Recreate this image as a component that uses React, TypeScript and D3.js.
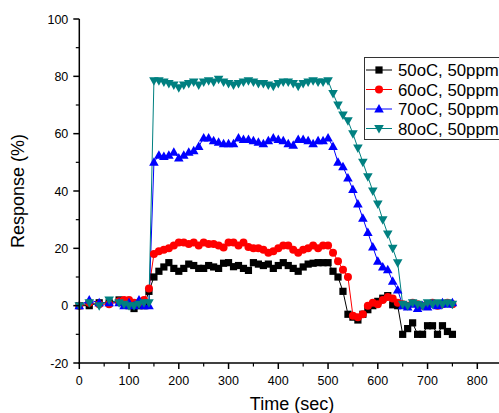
import React, { useEffect } from "react";
import * as d3 from "d3";

const times = [0, 20, 40, 60, 80, 90, 100, 110, 120, 130, 140,
  150, 160, 170, 180, 190, 200, 210, 220, 230, 240, 250, 260, 270, 280, 290,
  300, 310, 320, 330, 340, 350, 360, 370, 380, 390, 400, 410, 420, 430, 440,
  450, 460, 470, 480, 490, 500, 510, 520, 530, 540, 550, 560, 570, 580, 590,
  600, 610, 620, 630, 640, 650, 660, 670, 680, 690, 700, 710, 720, 730, 740, 750];

const s50 = [0, 0, 1, 1, 2, 1, 0, -1, 0, 0, 5,
  10, 12, 13.5, 15, 13, 12, 13, 14.5, 14, 13, 13, 14, 13.5, 13, 14.8,
  15, 13.6, 14, 13, 12.3, 15, 14.5, 14, 14.5, 13, 14, 15, 14, 13, 12,
  13.5, 14.5, 14.8, 15, 15, 15, 12, 10, 5, -3, -4, -5, -3, -1.4, 0,
  1.5, 2.6, 3.5, 0.3, 0, -10, -8, -6, -10, -10, -7, -7, -10, -7, -9, -10];

const s60 = [0, 1, 0.5, 0.5, 1.5, 2, 2, 1, 1, 2, 6,
  18, 19, 19.5, 20, 21, 22, 22, 21.5, 22, 21, 22, 21.5, 21.5, 21, 20.3,
  22, 22, 21, 22, 20.5, 20, 20, 19.5, 18.5, 19, 20, 21, 21, 19.5, 18.5,
  19.5, 20, 21, 20, 21, 21, 18.5, 15.5, 12.5, 10, -3.5, -4, -3, 0, 1,
  0.5, 2, 3, 2.5, 1, 0.5, 0, 1, 0.5, 0, 0.5, 1, 0, 0.5, 1, 0.5];

const s70 = [0, 2, 1, 1, 1, 0, 1, 0, 2, 0, 0,
  50, 52.5, 52, 52.5, 53.5, 51.5, 52.5, 53.5, 54, 55.5, 58.5, 58.5, 57.5, 57, 56.5,
  56.5, 56.5, 58.5, 58, 58, 57.5, 57, 56.5, 57.5, 58.5, 58, 57.5, 56.5, 56, 58,
  58, 57.5, 56.5, 57.5, 57.5, 58.5, 55.5, 50, 48.5, 44.5, 40.5, 35.5, 30.5, 25.5, 20.5,
  15.5, 13.5, 12.5, 8.5, 5.5, 0, -0.5, 0.5, -1, 0, -0.5, 0.5, 0, 1, 0.5, 1];

const s80 = [0, 1, 0, 2, 1, 0.5, 0, 0, 0.5, 1, 1,
  78.5, 78.5, 78, 77.5, 77, 76, 77, 77.5, 78, 77, 78, 78.5, 78, 79, 78,
  77.5, 77, 77.5, 78, 78.5, 78, 77.5, 77.5, 77, 76.5, 77.5, 78, 78, 77.5, 76.5,
  77.5, 78, 78.5, 78, 78, 78.5, 74, 70, 66.5, 64.5, 60, 55, 50, 45, 40,
  35.5, 30, 25, 20, 15, 0.5, 0, 1, 0.5, 0, 1, 0.5, 1, 0.5, 1, 0.5];

const seriesNames = ["50oC, 50ppm", "60oC, 50ppm", "70oC, 50ppm", "80oC, 50ppm"];
const seriesColors = ["#000000", "#ff0000", "#0000ff", "#008080"];
const seriesShapes = ["square", "circle", "triUp", "triDown"];
const seriesValues = [s50, s60, s70, s80];

const xTicks = [0, 100, 200, 300, 400, 500, 600, 700, 800];
const yTicks = [-20, 0, 20, 40, 60, 80, 100];
const xMinor = [50, 150, 250, 350, 450, 550, 650, 750, 850];
const yMinor = [-10, 10, 30, 50, 70, 90];

const FONT = "'Liberation Sans', Arial, Helvetica, sans-serif";

function Marker({ shape, x, y, color }: { shape: string; x: number; y: number; color: string }) {
  if (shape === "square") return <rect x={x - 3.6} y={y - 3.6} width={7.2} height={7.2} fill={color} />;
  if (shape === "circle") return <circle cx={x} cy={y} r={4} fill={color} />;
  if (shape === "triUp")
    return <path d={`M${x},${y - 5}L${x + 4.8},${y + 3.5}L${x - 4.8},${y + 3.5}Z`} fill={color} />;
  return <path d={`M${x},${y + 5}L${x + 4.8},${y - 3.5}L${x - 4.8},${y - 3.5}Z`} fill={color} />;
}

export default function App() {
  useEffect(() => {
    document.body.style.margin = "0";
  }, []);

  const x = d3.scaleLinear().domain([0, 800]).range([79.3, 477.3]);
  const y = d3.scaleLinear().domain([-20, 100]).range([363, 19]);
  const line = d3.line<number>().x((_, i) => x(times[i])).y((v) => y(v));

  const x0 = x(0);
  const yBase = y(-20);

  return (
    <div style={{ position: "absolute", left: 0, top: 0 }}>
      <svg width={499} height={413} style={{ display: "block", background: "#fff" }} fontFamily={FONT}>
        <rect width={499} height={413} fill="#fff" />
        {seriesValues.map((vals, si) => (
          <path key={"l" + si} d={line(vals) || ""} fill="none" stroke={seriesColors[si]} strokeWidth={1} />
        ))}
        {seriesValues.map((vals, si) => (
          <g key={"m" + si}>
            {vals.map((v, i) => (
              <Marker key={i} shape={seriesShapes[si]} x={x(times[i])} y={y(v)} color={seriesColors[si]} />
            ))}
          </g>
        ))}
        <line x1={x0} x2={x0} y1={y(100)} y2={yBase + 0.8} stroke="#000" strokeWidth={1.5} />
        <line x1={x0 - 0.75} x2={510} y1={yBase} y2={yBase} stroke="#000" strokeWidth={1.5} />
        {yTicks.map((t) => (
          <g key={"yt" + t}>
            <line x1={x0 - 6} x2={x0} y1={y(t)} y2={y(t)} stroke="#000" strokeWidth={1.5} />
            <text x={x0 - 11} y={y(t)} dy="0.36em" textAnchor="end" fontSize={12.5} fill="#000">{t}</text>
          </g>
        ))}
        {yMinor.map((t) => (
          <line key={"ym" + t} x1={x0 - 3.5} x2={x0} y1={y(t)} y2={y(t)} stroke="#000" strokeWidth={1.2} />
        ))}
        {xTicks.map((t) => (
          <g key={"xt" + t}>
            <line x1={x(t)} x2={x(t)} y1={yBase} y2={yBase + 6} stroke="#000" strokeWidth={1.5} />
            <text x={x(t)} y={yBase + 22} textAnchor="middle" fontSize={12.5} fill="#000">{t}</text>
          </g>
        ))}
        {xMinor.map((t) => (
          <line key={"xm" + t} x1={x(t)} x2={x(t)} y1={yBase} y2={yBase + 3.5} stroke="#000" strokeWidth={1.2} />
        ))}
        <text x={292} y={410} textAnchor="middle" fontSize={18} fill="#000">Time (sec)</text>
        <text transform={`translate(24,${(y(100) + yBase) / 2}) rotate(-90)`} textAnchor="middle" fontSize={18} fill="#000">Response (%)</text>
        <rect x={364.5} y={57.5} width={200} height={82} fill="#fff" stroke="#333" strokeWidth={1} />
        {seriesNames.map((name, si) => {
          const ly = 70 + si * 19.5;
          return (
            <g key={"lg" + si}>
              <line x1={366} x2={392} y1={ly} y2={ly} stroke={seriesColors[si]} strokeWidth={1} />
              <Marker shape={seriesShapes[si]} x={379} y={ly} color={seriesColors[si]} />
              <text x={398} y={ly} dy="0.36em" fontSize={16.8} fill="#000">{name}</text>
            </g>
          );
        })}
      </svg>
    </div>
  );
}
